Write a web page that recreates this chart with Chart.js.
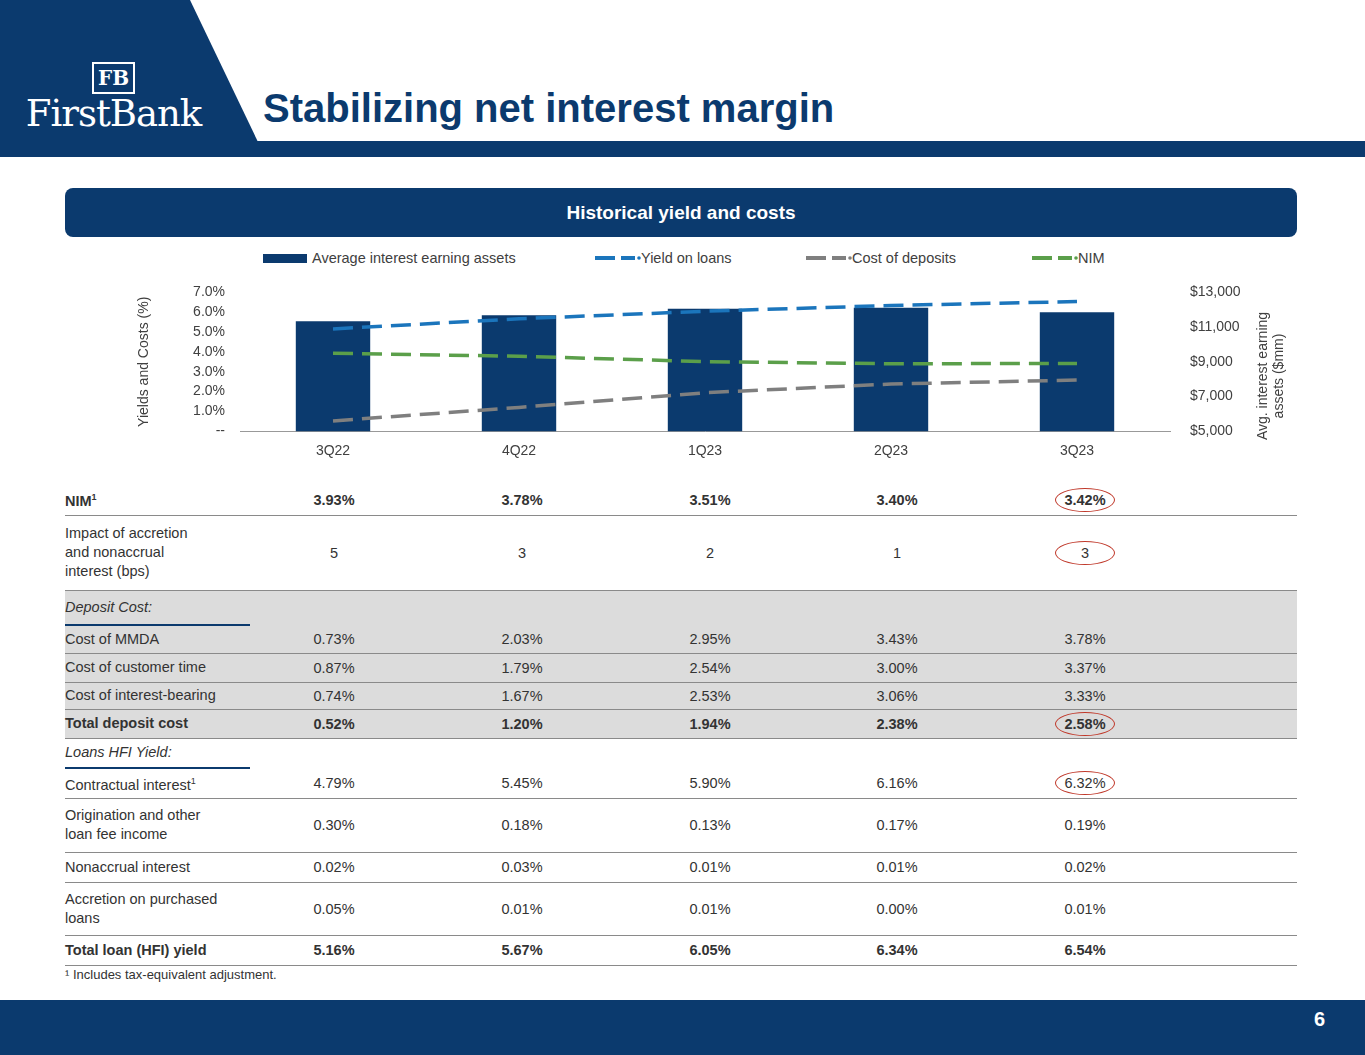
<!DOCTYPE html>
<html><head><meta charset="utf-8">
<script src="https://cdn.jsdelivr.net/npm/chart.js@4"></script>
<style>
body{margin:0;width:1365px;height:1055px;position:relative;font-family:"Liberation Sans",Arial,sans-serif;background:#fff;overflow:hidden;color:#333}
#logoShape{position:absolute;left:0;top:0;width:258px;height:142px;background:#0b3a6e;clip-path:polygon(0 0,190px 0,258px 142px,0 142px)}
#stripe{position:absolute;left:0;top:141px;width:1365px;height:16px;background:#0b3a6e}
#logo{position:absolute;left:16px;top:62px;color:#fff;font-family:"DejaVu Serif",serif;text-align:center;width:195px}
#logo .fb{display:inline-block;border:2px solid #fff;font-size:20px;padding:0 4px;line-height:28px;font-weight:bold}
#logo .name{font-size:37px;line-height:40px;letter-spacing:-1px}
#title{position:absolute;left:263px;top:86px;font-size:40px;font-weight:bold;color:#0b3a6e}
#sect{position:absolute;left:65px;top:188px;width:1232px;height:49px;border-radius:8px;background:#0b3a6e;color:#fff;font-weight:bold;font-size:19px;text-align:center;line-height:50px}
#legend{position:absolute;top:250px;left:0;width:1365px;font-size:14.5px;color:#404040}
#legend div{position:absolute;display:flex;align-items:center}
#chartBox{position:absolute;left:120px;top:272px;width:1180px;height:200px}
#rTitle{position:absolute;left:1270px;top:360px;width:160px;margin-left:-80px;transform:rotate(-90deg);text-align:center;font-size:14px;line-height:16px;color:#404040}
table{position:absolute;left:65px;top:485px;border-collapse:collapse;font-size:14.5px;table-layout:fixed;width:1232px}
td{padding:0;text-align:center;color:#333;border-bottom:1px solid #8a8a8a}
td:first-child{text-align:left;line-height:19px}
tr.g td{background:#dcdcdc}
tr.b td{font-weight:bold}
tr.h td{font-style:italic;border-bottom:none}
tr.h td:first-child{border-bottom:2px solid #0b3a6e}
.circ{display:inline-block;border:1.5px solid #c0392b;border-radius:50%;padding:3px 8px;min-width:42px}
#foot{position:absolute;left:65px;top:967px;font-size:13px;color:#333}
#bottom{position:absolute;left:0;top:1000px;width:1365px;height:55px;background:#0b3a6e}
#pg{position:absolute;left:1314px;top:1008px;color:#fff;font-weight:bold;font-size:20px}
</style></head><body>
<div id="logoShape"></div><div id="stripe"></div>
<div id="logo"><span class="fb">FB</span><div class="name">FirstBank</div></div>
<div id="title">Stabilizing net interest margin</div>
<div id="sect">Historical yield and costs</div>
<div id="legend">
 <div style="left:263px"><span style="display:inline-block;width:44px;height:9px;background:#0b3a6e;margin-right:5px"></span>Average interest earning assets</div>
 <div style="left:595px"><svg width="46" height="6"><line x1="0" y1="3" x2="40" y2="3" stroke="#1b75bc" stroke-width="4" stroke-dasharray="20 6"/><circle cx="44" cy="3" r="1.8" fill="#1b75bc"/></svg>Yield on loans</div>
 <div style="left:806px"><svg width="46" height="6"><line x1="0" y1="3" x2="40" y2="3" stroke="#7f7f7f" stroke-width="4" stroke-dasharray="20 6"/><circle cx="44" cy="3" r="1.8" fill="#7f7f7f"/></svg>Cost of deposits</div>
 <div style="left:1032px"><svg width="46" height="6"><line x1="0" y1="3" x2="40" y2="3" stroke="#5b9f4a" stroke-width="4" stroke-dasharray="20 6"/><circle cx="44" cy="3" r="1.8" fill="#5b9f4a"/></svg>NIM</div>
</div>
<div id="chartBox"><canvas id="c"></canvas></div>
<div id="rTitle">Avg. interest earning<br>assets ($mm)</div>
<table id="tbl"></table>
<div id="foot">¹ Includes tax-equivalent adjustment.</div>
<div id="bottom"></div><div id="pg">6</div>
<script>
const quarters = ["3Q22", "4Q22", "1Q23", "2Q23", "3Q23"];
const avgAssets = [11330, 11690, 12060, 12110, 11850];
const yieldOnLoans = [5.16, 5.67, 6.05, 6.34, 6.54];
const costOfDeposits = [0.52, 1.20, 1.94, 2.38, 2.58];
const nim = [3.93, 3.78, 3.51, 3.40, 3.42];
const leftTicks = [0, 1, 2, 3, 4, 5, 6, 7];
const rightTicks = [5000, 7000, 9000, 11000, 13000];

// table rows: [label, values, class, circled, height]
const rows = [
  ["NIM<sup style='font-size:9px'>1</sup>", ["3.93%", "3.78%", "3.51%", "3.40%", "3.42%"], "b", true, 30],
  ["Impact of accretion<br>and nonaccrual<br>interest (bps)", ["5", "3", "2", "1", "3"], "", true, 75],
  ["Deposit Cost:", null, "g h", false, 35],
  ["Cost of MMDA", ["0.73%", "2.03%", "2.95%", "3.43%", "3.78%"], "g", false, 28],
  ["Cost of customer time", ["0.87%", "1.79%", "2.54%", "3.00%", "3.37%"], "g", false, 29],
  ["Cost of interest-bearing", ["0.74%", "1.67%", "2.53%", "3.06%", "3.33%"], "g", false, 27],
  ["Total deposit cost", ["0.52%", "1.20%", "1.94%", "2.38%", "2.58%"], "g b", true, 29],
  ["Loans HFI Yield:", null, "h", false, 30],
  ["Contractual interest<sup style='font-size:9px'>1</sup>", ["4.79%", "5.45%", "5.90%", "6.16%", "6.32%"], "", true, 30],
  ["Origination and other<br>loan fee income", ["0.30%", "0.18%", "0.13%", "0.17%", "0.19%"], "", false, 54],
  ["Nonaccrual interest", ["0.02%", "0.03%", "0.01%", "0.01%", "0.02%"], "", false, 30],
  ["Accretion on purchased<br>loans", ["0.05%", "0.01%", "0.01%", "0.00%", "0.01%"], "", false, 53],
  ["Total loan (HFI) yield", ["5.16%", "5.67%", "6.05%", "6.34%", "6.54%"], "b", false, 30]
];
const colW = [185, 168, 208, 168, 206, 170, 127];
let html = "<colgroup>" + colW.map((w) => `<col style="width:${w}px">`).join("") + "</colgroup>";
rows.forEach(([label, vals, cls, circ, h]) => {
  html += `<tr class="${cls}" style="height:${h}px"><td>${label}</td>`;
  for (let i = 0; i < 5; i++) {
    let v = vals ? vals[i] : "";
    if (circ && i === 4) v = `<span class="circ">${v}</span>`;
    html += `<td>${v}</td>`;
  }
  html += "<td></td></tr>";
});
document.getElementById("tbl").innerHTML = html;

const lineDs = (label, data, color) => ({
  type: "line", label, data, yAxisID: "y", borderColor: color, backgroundColor: color,
  borderWidth: 3.5, borderDash: [20, 9], pointRadius: 0, fill: false, order: 0
});

new Chart(document.getElementById("c"), {
  data: {
    labels: quarters,
    datasets: [
      { type: "bar", label: "Average interest earning assets", data: avgAssets, yAxisID: "y2",
        backgroundColor: "#0b3a6e", barPercentage: 0.4, categoryPercentage: 1, order: 1 },
      lineDs("Yield on loans", yieldOnLoans, "#1b75bc"),
      lineDs("Cost of deposits", costOfDeposits, "#7f7f7f"),
      lineDs("NIM", nim, "#5b9f4a")
    ]
  },
  options: {
    responsive: true, maintainAspectRatio: false, animation: false,
    plugins: { legend: { display: false }, tooltip: { enabled: false } },
    scales: {
      x: { grid: { display: false, drawTicks: false }, border: { color: "#999" },
        ticks: { color: "#404040", font: { size: 14, family: "Liberation Sans" }, padding: 12 } },
      y: { position: "left", min: 0, max: 7, afterFit: (s) => { s.width = 120; },
        afterBuildTicks: (s) => { s.ticks = leftTicks.map((v) => ({ value: v })); },
        grid: { display: false }, border: { display: false },
        ticks: { color: "#404040", font: { size: 14, family: "Liberation Sans" }, padding: 7,
          callback: (v) => (v === 0 ? "--" : v.toFixed(1) + "%") },
        title: { display: true, text: "Yields and Costs (%)", color: "#404040", font: { size: 14, family: "Liberation Sans" }, padding: { top: 16 } } },
      y2: { position: "right", min: 5000, max: 13000, afterFit: (s) => { s.width = 130; },
        afterBuildTicks: (s) => { s.ticks = rightTicks.map((v) => ({ value: v })); },
        grid: { display: false }, border: { display: false },
        ticks: { color: "#404040", font: { size: 14, family: "Liberation Sans" }, padding: 12,
          callback: (v) => "$" + v.toLocaleString("en-US") } }
    }
  }
});
</script>
</body></html>
